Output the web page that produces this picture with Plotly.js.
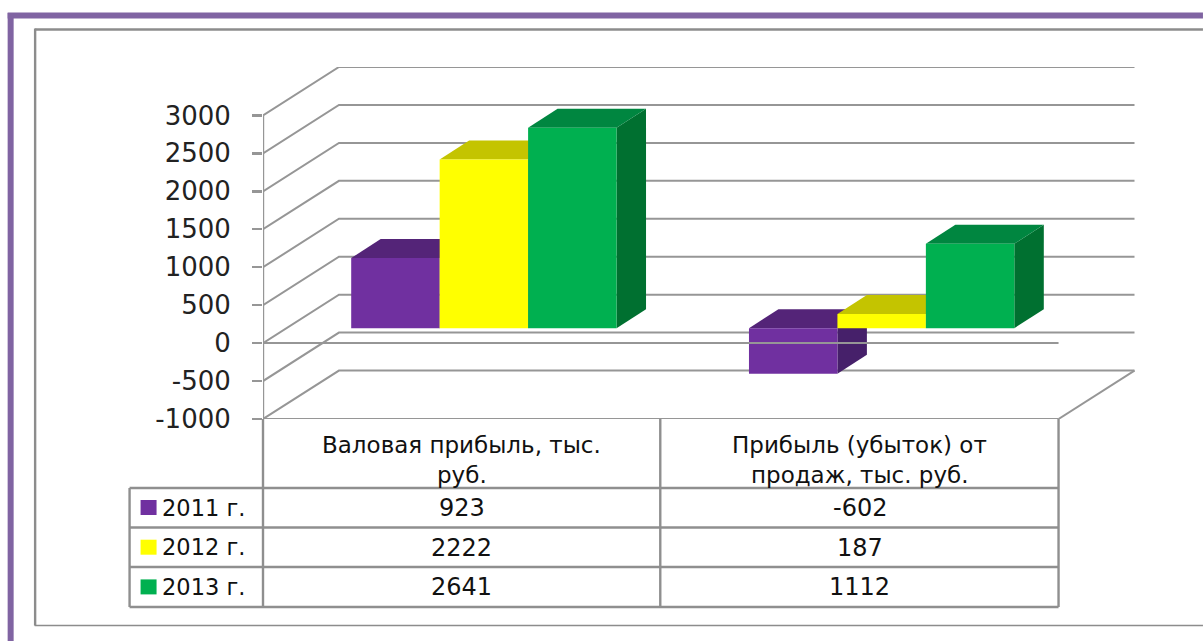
<!DOCTYPE html>
<html><head><meta charset="utf-8">
<script src="https://cdn.plot.ly/plotly-3.0.1.min.js"></script>
<style>html,body{margin:0;padding:0;background:#fff;overflow:hidden}#c{width:1203px;height:641px}</style>
</head><body><div id="c"></div>
<script>
const categoryLines = [['Валовая прибыль, тыс.', 'руб.'], ['Прибыль (убыток) от', 'продаж, тыс. руб.']];
const seriesNames = ['2011 г.', '2012 г.', '2013 г.'];
const values2011 = [923, -602];
const values2012 = [2222, 187];
const values2013 = [2641, 1112];
const tickValues = [-1000, -500, 0, 500, 1000, 1500, 2000, 2500, 3000];
const frontColors = ['#7030A0', '#FFFF00', '#00B050'];
const topColors = ['#542478', '#C4C400', '#008640'];
const sideColors = ['#46206A', '#A8A800', '#007030'];

const seriesValues = [values2011, values2012, values2013];
const W = 1203, H = 641;
const L = 262.5, R = 1135, T = 67, B = 419;
const catPx = 398, pxPerVal = 0.076;
const unitX = px => px / catPx, unitY = px => px / pxPerVal;
const wallDX = unitX(76), wallDY = unitY(48.5);
const barOX = unitX(22), barOY = unitY(15);
const barDX = unitX(29.5), barDY = unitY(19);
const barW = 88.5 / catPx;
const xMax = (R - L) / catPx;
const yMax = 3000 + wallDY;
const GRID = '#969696';
const traces = [];
const line = (x, y, w, color) => ({type: 'scatter', mode: 'lines', x, y, hoverinfo: 'skip', showlegend: false,
  line: {color: color || GRID, width: w || 2}});
const poly = (x, y, color) => ({type: 'scatter', mode: 'none', fill: 'toself', fillcolor: color, x, y,
  hoverinfo: 'skip', showlegend: false});

tickValues.forEach(v => {
  traces.push(line([0, wallDX, wallDX + 2], [v, v + wallDY, v + wallDY]));
});
traces.push(line([2, 2 + wallDX], [-1000, -1000 + wallDY]));
traces.push(line([0, 0], [-1000, 3000], 2.4));

categoryLines.forEach((_, c) => {
  seriesValues.forEach((vals, s) => {
    const v = vals[c];
    const x0 = c + 0.5 + (s - 1.5) * barW + barOX, x1 = x0 + barW;
    const lo = Math.min(0, v) + barOY, hi = Math.max(0, v) + barOY;
    traces.push(poly([x1, x1 + barDX, x1 + barDX, x1], [lo, lo + barDY, hi + barDY, hi], sideColors[s]));
    traces.push(poly([x0, x0 + barDX, x1 + barDX, x1], [hi, hi + barDY, hi + barDY, hi], topColors[s]));
    traces.push(poly([x0, x1, x1, x0], [lo, lo, hi, hi], frontColors[s]));
  });
});
traces.push(line([0, 2], [0, 0]));
traces.push(line([0, 2], [-1000, -1000], 2.2));

const px = x => (x - L) / (R - L), py = y => (B - y) / (B - T);
const shapes = [];
const seg = (x0, y0, x1, y1, color, width) => shapes.push({type: 'line', xref: 'paper', yref: 'paper',
  x0: px(x0), y0: py(y0), x1: px(x1), y1: py(y1), line: {color, width}});
// outer frames
seg(7, 15.5, W, 15.5, '#8064A2', 6);
seg(10, 13, 10, H, '#8064A2', 6);
seg(34.5, 29.5, W, 29.5, '#8c8c8c', 2.4);
seg(34.5, 28.5, 34.5, 625.5, '#8c8c8c', 2.4);
seg(34, 625.5, W, 625.5, '#8c8c8c', 1.6);
// data table grid
const rowY = [488, 527.5, 567, 607];
rowY.forEach(y => seg(129, y, 1058.5, y, '#8f8f8f', 2.4));
seg(262.5, 419, 262.5, 607, '#8f8f8f', 2.4);
seg(660, 419, 660, 607, '#8f8f8f', 2.4);
seg(1058.5, 419, 1058.5, 607, '#8f8f8f', 2.4);
seg(129, 488, 129, 607, '#8f8f8f', 2.4);

const annotations = [];
const INK = '#111111';
const ann = (text, xref, x, y, xanchor, font) => annotations.push({text, xref, yref: 'paper', x, y: py(y),
  xanchor, yanchor: 'middle', showarrow: false, font});
const headFont = {family: 'DejaVu Sans', size: 23, color: INK};
const valueFont = {family: 'DejaVu Sans', size: 24, color: INK};
const nameFont = {family: 'DejaVu Sans', size: 22.5, color: INK};
categoryLines.forEach((lines, c) => {
  ann(lines[0], 'x', c + 0.5, 445, 'center', headFont);
  ann(lines[1], 'x', c + 0.5, 475, 'center', headFont);
  seriesValues.forEach((vals, s) => ann(String(vals[c]), 'x', c + 0.5, 508 + s * 39.7, 'center', valueFont));
});
seriesNames.forEach((n, s) => {
  const cy = 507.5 + s * 39.7;
  shapes.push({type: 'rect', xref: 'paper', yref: 'paper', x0: px(140), x1: px(156), y0: py(cy - 7.5), y1: py(cy + 7.5),
    fillcolor: frontColors[s], line: {width: 0}});
  ann(n, 'paper', px(159), cy, 'left', nameFont);
});

Plotly.newPlot('c', traces, {
  width: W, height: H, autosize: false, showlegend: false,
  paper_bgcolor: '#fff', plot_bgcolor: 'rgba(0,0,0,0)',
  margin: {l: L, r: W - R, t: T, b: H - B, pad: 0},
  xaxis: {range: [0, xMax], visible: false, fixedrange: true},
  yaxis: {range: [-1000, yMax], tickmode: 'array', tickvals: tickValues, ticktext: tickValues.map(String),
    ticks: 'outside', ticklen: 10, tickwidth: 2.4, tickcolor: GRID, ticklabelstandoff: 16,
    showgrid: false, zeroline: false, showline: false, fixedrange: true,
    tickfont: {family: 'DejaVu Sans', size: 26, color: '#222'}},
  shapes, annotations
}, {displayModeBar: false, staticPlot: true});
</script></body></html>
